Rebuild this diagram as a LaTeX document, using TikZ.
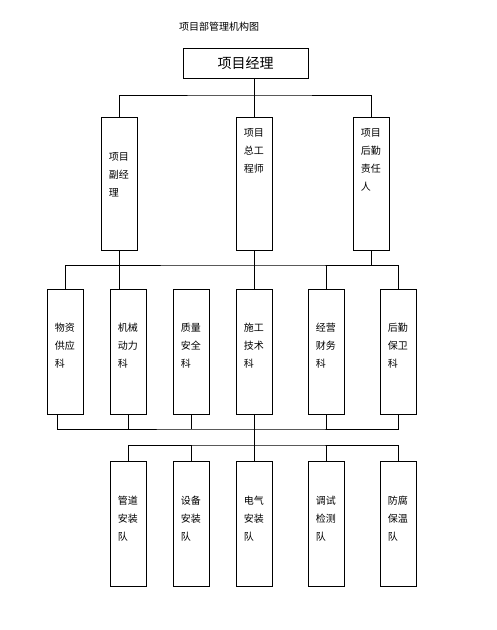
\documentclass[tikz,border=0pt]{standalone}
\usepackage{fontspec}
\newfontfamily\cjk{Noto Sans CJK SC}
\begin{document}
\begin{tikzpicture}[x=1pt,y=-1pt,
  box/.style={draw,line width=0.8pt,minimum width=36pt,minimum height=125pt,inner sep=0pt},
  tallbox/.style={box,minimum height=133pt},
  lbl/.style={anchor=north west,inner sep=0pt,align=left,font=\cjk\fontsize{10}{18}\selectfont},
  conn/.style={line width=0.8pt}]
\useasboundingbox (0,0) rectangle (497,630);
\node[inner sep=0pt,font=\cjk\fontsize{10}{12}\selectfont] (title) at (219,27) {项目部管理机构图};
\node[draw,line width=0.8pt,minimum width=125pt,minimum height=30pt,inner sep=0pt,font=\cjk\fontsize{14}{16}\selectfont] (pm) at (245.5,63) {项目经理};
% level 2
\node[tallbox] (d1) at (119,183.5) {};
\node[tallbox] (d2) at (254,183.5) {};
\node[tallbox] (d3) at (371,183.5) {};
\node[lbl] (t1) at ([shift={(8,36)}]d1.north west) {项目\\副经\\理};
\node[lbl] (t2) at ([shift={(8,12)}]d2.north west) {项目\\总工\\程师};
\node[lbl] (t3) at ([shift={(8,12)}]d3.north west) {项目\\后勤\\责任\\人};
% level 3
\node[box] (A) at (65,351.5) {};
\node[box] (B) at (128,351.5) {};
\node[box] (C) at (191,351.5) {};
\node[box] (D) at (254,351.5) {};
\node[box] (E) at (326,351.5) {};
\node[box] (F) at (398,351.5) {};
\foreach \n/\t in {A/物资\\供应\\科,B/机械\\动力\\科,C/质量\\安全\\科,D/施工\\技术\\科,E/经营\\财务\\科,F/后勤\\保卫\\科}
  \node[lbl] (t\n) at ([shift={(8,34)}]\n.north west) {\t};
% level 4
\node[box] (G) at (128,523.5) {};
\node[box] (H) at (191,523.5) {};
\node[box] (I) at (254,523.5) {};
\node[box] (J) at (326,523.5) {};
\node[box] (K) at (398,523.5) {};
\foreach \n/\t in {G/管道\\安装\\队,H/设备\\安装\\队,I/电气\\安装\\队,J/调试\\检测\\队,K/防腐\\保温\\队}
  \node[lbl] (t\n) at ([shift={(8,35)}]\n.north west) {\t};
% connectors: manager to level 2
\coordinate (j1) at (254,95);
\draw[conn] (pm.south -| d2.north) -- (d2.north);
\draw[conn] (d1.north) |- (j1) -| (d3.north);
% level 2 to level 3
\coordinate (j2) at (254,265);
\draw[conn] (d1.south) -- (d1.south |- B.north);
\draw[conn] (d2.south) -- (D.north);
\draw[conn] (d3.south) -- (d3.south |- j2);
\draw[conn] (A.north) |- (j2) -| (F.north);
\draw[conn] (E.north) -- (E.north |- j2);
% level 3 to bottom bus
\coordinate (j3) at (254,429);
\coordinate (ab) at (57,414);
\draw[conn] (ab) |- (j3) -| (F.south);
\draw[conn] (B.south) -- (B.south |- j3);
\draw[conn] (C.south) -- (C.south |- j3);
\draw[conn] (E.south) -- (E.south |- j3);
\draw[conn] (D.south) -- (j3);
% to level 4
\coordinate (j4) at (254,445);
\draw[conn] (j3) -- (I.north);
\draw[conn] (G.north) |- (j4) -| (K.north);
\draw[conn] (H.north) -- (H.north |- j4);
\draw[conn] (J.north) -- (J.north |- j4);
\end{tikzpicture}
\end{document}
